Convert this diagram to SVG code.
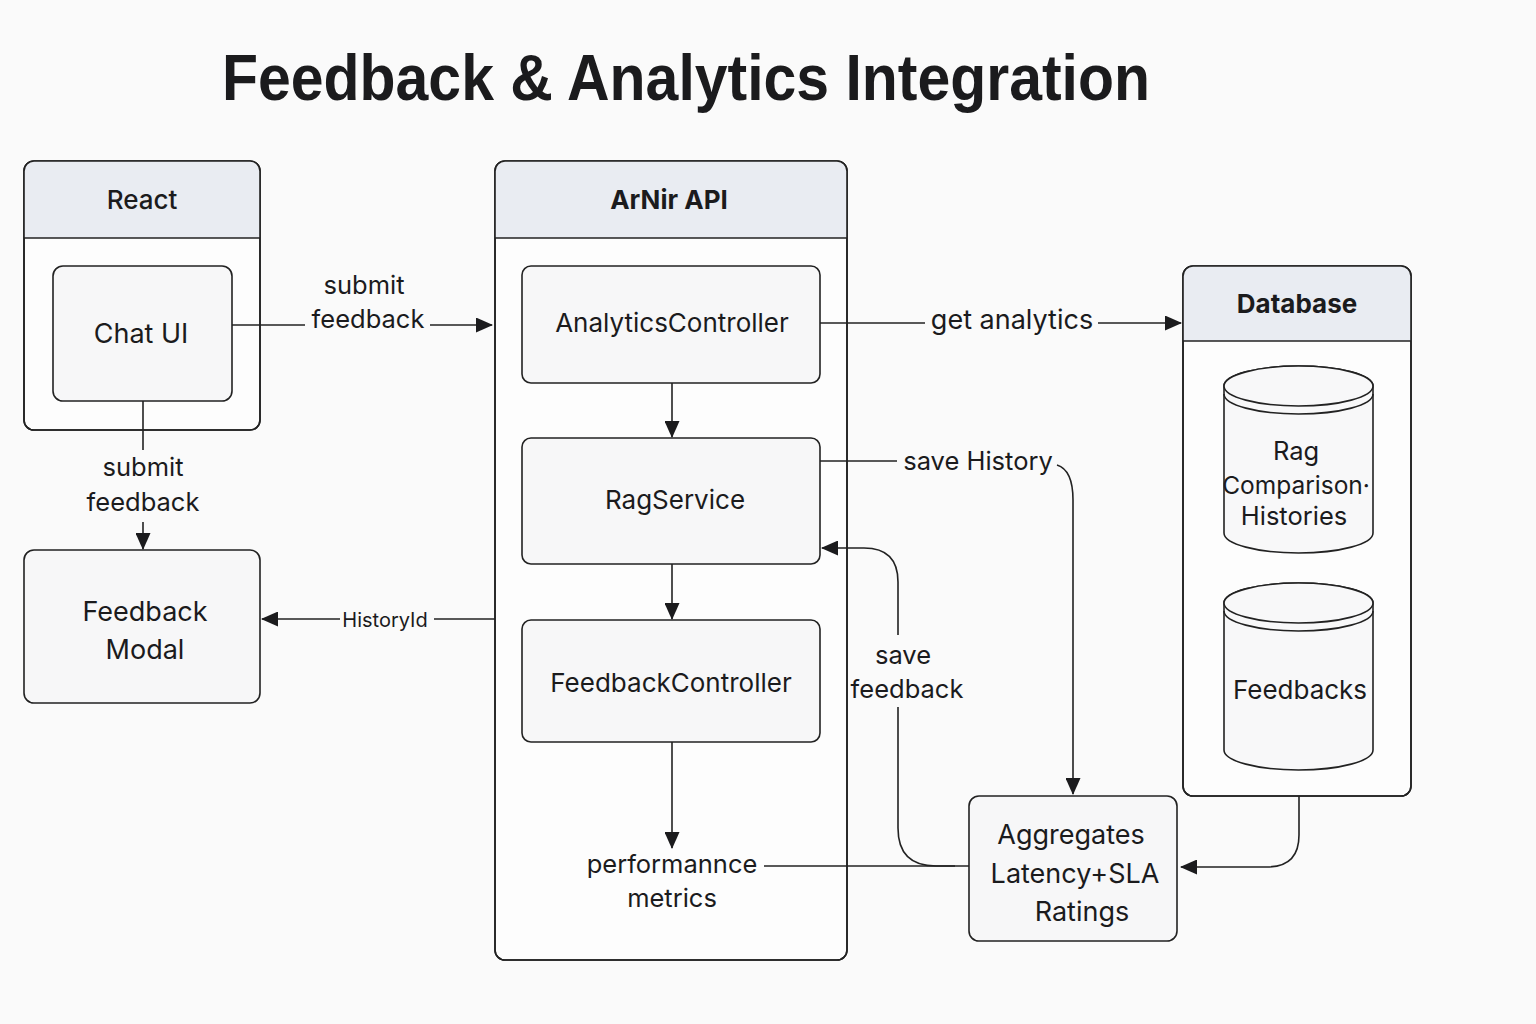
<svg xmlns="http://www.w3.org/2000/svg" width="1536" height="1024" viewBox="0 0 1536 1024">
<style>
text{font-family:Inter,"Liberation Sans",sans-serif;fill:#1b1b1d;text-anchor:middle}
.title{font-family:"Liberation Sans",Arial,sans-serif;font-weight:bold;font-size:64px}
.hdr{font-weight:600;font-size:26px}
.lbl{font-size:26px}
.big{font-size:27px}
.cl{font-size:25.5px}
.sm{font-size:20px}
.cont{fill:#fdfdfd;stroke:#222;stroke-width:1.6}
.band{fill:#e9ecf2;stroke:none}
.box{fill:#f7f7f8;stroke:#222;stroke-width:1.6}
.sep{stroke:#222;stroke-width:1.6}
.cyl{fill:#f8f8f9;stroke:#222;stroke-width:1.6}
.c{fill:none;stroke:#222;stroke-width:1.6}
</style>
<defs>
<marker id="ah" markerUnits="userSpaceOnUse" markerWidth="17" markerHeight="15" refX="16" refY="7.5" orient="auto">
<path d="M0,0 L17,7.5 L0,15 z" fill="#1b1b1d"/>
</marker>
<clipPath id="cpReact"><rect x="24" y="161" width="236" height="269" rx="10"/></clipPath>
<clipPath id="cpApi"><rect x="495" y="161" width="352" height="799" rx="10"/></clipPath>
<clipPath id="cpDb"><rect x="1183" y="266" width="228" height="530" rx="10"/></clipPath>
</defs>
<rect width="1536" height="1024" fill="#fafafa"/>
<text class="title" x="686" y="100" textLength="928" lengthAdjust="spacingAndGlyphs">Feedback &amp; Analytics Integration</text>

<g id="react">
<rect class="cont" x="24" y="161" width="236" height="269" rx="10"/>
<rect class="band" x="24" y="161" width="236" height="77" clip-path="url(#cpReact)"/>
<rect x="24" y="161" width="236" height="269" rx="10" fill="none" stroke="#222" stroke-width="1.6"/>
<line class="sep" x1="24" y1="238" x2="260" y2="238"/>
<text class="hdr" x="142" y="209" style="font-weight:500">React</text>
</g>
<g id="chat-ui">
<rect class="box" x="53" y="266" width="179" height="135" rx="10"/>
<text class="big" x="141" y="343">Chat UI</text>
</g>
<g id="feedback-modal">
<rect class="box" x="24" y="550" width="236" height="153" rx="10"/>
<text class="big" x="145" y="621">Feedback</text>
<text class="big" x="145" y="659">Modal</text>
</g>

<g id="arnir-api">
<rect class="cont" x="495" y="161" width="352" height="799" rx="10"/>
<rect class="band" x="495" y="161" width="352" height="77" clip-path="url(#cpApi)"/>
<rect x="495" y="161" width="352" height="799" rx="10" fill="none" stroke="#222" stroke-width="1.6"/>
<line class="sep" x1="495" y1="238" x2="847" y2="238"/>
<text class="hdr" x="669" y="209" style="font-weight:700">ArNir API</text>
</g>
<g id="analytics-controller">
<rect class="box" x="522" y="266" width="298" height="117" rx="9"/>
<text class="lbl" x="672" y="332">AnalyticsController</text>
</g>
<g id="rag-service">
<rect class="box" x="522" y="438" width="298" height="126" rx="9"/>
<text class="lbl" x="675" y="509">RagService</text>
</g>
<g id="feedback-controller">
<rect class="box" x="522" y="620" width="298" height="122" rx="9"/>
<text class="lbl" x="671" y="692">FeedbackController</text>
</g>
<g id="performance-metrics">
<text class="cl" x="672" y="873">performannce</text>
<text class="cl" x="672" y="907">metrics</text>
</g>

<g id="database">
<rect class="cont" x="1183" y="266" width="228" height="530" rx="10"/>
<rect class="band" x="1183" y="266" width="228" height="75" clip-path="url(#cpDb)"/>
<rect x="1183" y="266" width="228" height="530" rx="10" fill="none" stroke="#222" stroke-width="1.6"/>
<line class="sep" x1="1183" y1="341" x2="1411" y2="341"/>
<text class="hdr" x="1297" y="313" style="font-weight:700">Database</text>
</g>
<g id="rag-histories">
<path class="cyl" d="M1224 386 V533 A74.5 20 0 0 0 1373 533 V386 A74.5 20 0 0 0 1224 386 Z"/>
<ellipse class="cyl" cx="1298.5" cy="386" rx="74.5" ry="20"/>
<path class="c" d="M1224 394 A74.5 20 0 0 0 1373 394"/>
<text class="cl" x="1296" y="460">Rag</text>
<text class="cl" x="1296" y="494" style="font-size:24.5px">Comparison·</text>
<text class="cl" x="1294" y="525">Histories</text>
</g>
<g id="feedbacks">
<path class="cyl" d="M1224 603 V750 A74.5 20 0 0 0 1373 750 V603 A74.5 20 0 0 0 1224 603 Z"/>
<ellipse class="cyl" cx="1298.5" cy="603" rx="74.5" ry="20"/>
<path class="c" d="M1224 611 A74.5 20 0 0 0 1373 611"/>
<text class="lbl" x="1300" y="699">Feedbacks</text>
</g>

<g id="aggregates">
<rect class="box" x="969" y="796" width="208" height="145" rx="10"/>
<text class="big" x="1071" y="844">Aggregates</text>
<text class="big" x="1075" y="883">Latency+SLA</text>
<text class="big" x="1082" y="921">Ratings</text>
</g>

<g id="connectors">
<path class="c" d="M232 325 H305"/>
<path class="c" d="M430 325 H492" marker-end="url(#ah)"/>
<text class="cl" x="364" y="294">submit</text>
<text class="cl" x="368" y="328">feedback</text>

<path class="c" d="M143 401 V450"/>
<path class="c" d="M143 522 V549" marker-end="url(#ah)"/>
<text class="cl" x="143" y="476">submit</text>
<text class="cl" x="143" y="511">feedback</text>

<path class="c" d="M495 619 H434"/>
<path class="c" d="M340 619 H262" marker-end="url(#ah)"/>
<text class="sm" x="385" y="627">HistoryId</text>

<path class="c" d="M672 383 V437" marker-end="url(#ah)"/>
<path class="c" d="M672 564 V619" marker-end="url(#ah)"/>
<path class="c" d="M672 742 V848" marker-end="url(#ah)"/>

<path class="c" d="M764 866 H969"/>

<path class="c" d="M955 866 H936 Q898 866 898 828 V707"/>
<path class="c" d="M898 635 V582 Q898 548 864 548 H822" marker-end="url(#ah)"/>
<text class="cl" x="903" y="664">save</text>
<text class="cl" x="907" y="698">feedback</text>

<path class="c" d="M820 323 H925"/>
<path class="c" d="M1098 323 H1181" marker-end="url(#ah)"/>
<text class="big" x="1012" y="329">get analytics</text>

<path class="c" d="M820 461 H897"/>
<path class="c" d="M1057 465 Q1073 470 1073 500 V794" marker-end="url(#ah)"/>
<text class="cl" x="978" y="470">save History</text>

<path class="c" d="M1299 796 V835 Q1299 867 1267 867 H1181" marker-end="url(#ah)"/>
</g>
</svg>
